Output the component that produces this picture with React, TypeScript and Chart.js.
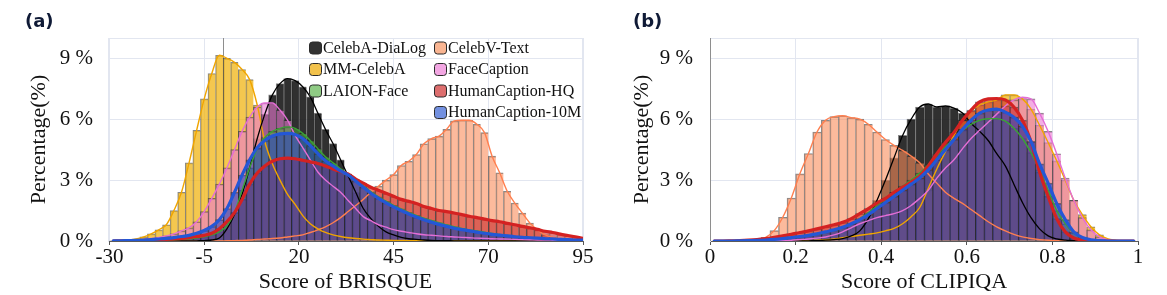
import React, { useEffect, useRef } from "react";
import { Chart, registerables } from "chart.js";

Chart.register(...registerables);

const SERIF = "'Liberation Serif', 'Times New Roman', serif";
const GRID = "#E2E6F0";

const SERIES = [
  "CelebA-DiaLog",
  "CelebV-Text",
  "MM-CelebA",
  "FaceCaption",
  "LAION-Face",
  "HumanCaption-HQ",
  "HumanCaption-10M",
];

// ---------- (a) BRISQUE ----------
const BRISQUE_BINS = [
  -29, -27, -25, -23, -21, -19, -17, -15, -13, -11,
  -9, -7, -5, -3, -1, 1, 3, 5, 7, 9,
  11, 13, 15, 17, 19, 21, 23, 25, 27, 29,
  31, 33, 35, 37, 39, 41, 43, 45, 47, 49,
  51, 53, 55, 57, 59, 61, 63, 65, 67, 69,
  71, 73, 75, 77, 79, 81, 83, 85, 87, 89,
  91, 93, 95,
];
const BRISQUE_CELEBA_DIALOG = [
  0, 0, 0, 0, 0, 0, 0, 0, 0, 0,
  0, 0.01, 0.02, 0.05, 0.15, 0.6, 1.3, 2.3, 3.6, 5.05,
  6.25, 7.2, 7.75, 8.0, 7.9, 7.6, 7.1, 6.3, 5.5, 4.8,
  4.0, 3.2, 2.4, 1.6, 1.1, 0.72, 0.45, 0.3, 0.18, 0.11,
  0.08, 0.05, 0.03, 0.02, 0.02, 0.01, 0.01, 0.01, 0.01, 0.01,
  0.01, 0.01, 0.01, 0, 0, 0, 0, 0, 0, 0,
  0, 0, 0,
];
const BRISQUE_CELEBV_TEXT = [
  0, 0, 0, 0, 0, 0, 0, 0, 0, 0,
  0, 0, 0, 0, 0, 0.01, 0.02, 0.03, 0.05, 0.08,
  0.1, 0.12, 0.15, 0.2, 0.25, 0.3, 0.42, 0.55, 0.7, 0.9,
  1.15, 1.45, 1.75, 2.05, 2.4, 2.7, 3.0, 3.27, 3.72, 3.93,
  4.26, 4.79, 5.04, 5.17, 5.5, 5.92, 5.95, 5.95, 5.75, 5.34,
  4.18, 3.36, 2.45, 1.87, 1.37, 0.88, 0.55, 0.3, 0.18, 0.1,
  0.06, 0.04, 0.02,
];
const BRISQUE_MM_CELEBA = [
  0.01, 0.02, 0.05, 0.1, 0.2, 0.35, 0.55, 0.8, 1.5, 2.4,
  3.85, 5.45, 7.0, 8.25, 9.15, 9.0, 8.8, 8.45, 7.95, 6.7,
  4.9, 3.8, 3.0, 2.3, 1.8, 1.25, 0.85, 0.6, 0.42, 0.3,
  0.22, 0.16, 0.12, 0.09, 0.07, 0.05, 0.04, 0.03, 0.03, 0.02,
  0.02, 0.02, 0.02, 0.01, 0.01, 0.01, 0.01, 0.01, 0.01, 0.01,
  0.01, 0.01, 0.01, 0, 0, 0, 0, 0, 0, 0,
  0, 0, 0,
];
const BRISQUE_FACECAPTION = [
  0, 0.01, 0.02, 0.04, 0.07, 0.12, 0.18, 0.25, 0.35, 0.5,
  0.65, 0.95, 1.45, 2.1, 2.8, 3.6, 4.5, 5.4, 6.1, 6.6,
  6.8, 6.8, 6.45, 5.95, 5.2, 4.6, 4.0, 3.4, 3.0, 2.7,
  2.4, 2.0, 1.6, 1.2, 1.0, 0.8, 0.68, 0.56, 0.48, 0.42,
  0.36, 0.31, 0.28, 0.25, 0.22, 0.2, 0.18, 0.16, 0.14, 0.13,
  0.11, 0.1, 0.09, 0.08, 0.07, 0.06, 0.05, 0.05, 0.04, 0.03,
  0.03, 0.02, 0.02,
];
const BRISQUE_LAION_FACE = [
  0, 0, 0, 0.01, 0.01, 0.02, 0.03, 0.04, 0.06, 0.08,
  0.1, 0.14, 0.2, 0.3, 0.45, 0.75, 1.4, 2.5, 3.6, 4.55,
  5.1, 5.4, 5.55, 5.62, 5.55, 5.3, 4.95, 4.55, 4.15, 3.85,
  3.55, 3.3, 3.02, 2.72, 2.44, 2.18, 1.96, 1.76, 1.58, 1.41,
  1.26, 1.13, 1.01, 0.9, 0.8, 0.7, 0.62, 0.55, 0.49, 0.43,
  0.37, 0.32, 0.27, 0.23, 0.2, 0.17, 0.14, 0.12, 0.1, 0.08,
  0.06, 0.05, 0.03,
];
const BRISQUE_HQ = [
  0, 0.01, 0.01, 0.02, 0.03, 0.04, 0.06, 0.08, 0.1, 0.13,
  0.17, 0.22, 0.28, 0.38, 0.6, 0.95, 1.4, 2.05, 2.8, 3.35,
  3.7, 3.93, 4.05, 4.08, 4.05, 3.98, 3.9, 3.82, 3.7, 3.55,
  3.42, 3.3, 3.05, 2.85, 2.65, 2.5, 2.35, 2.2, 2.05, 1.95,
  1.85, 1.7, 1.6, 1.5, 1.45, 1.38, 1.3, 1.22, 1.15, 1.08,
  1.0, 0.95, 0.87, 0.8, 0.72, 0.65, 0.57, 0.48, 0.42, 0.34,
  0.27, 0.2, 0.13,
];
const BRISQUE_10M = [
  0.01, 0.01, 0.02, 0.03, 0.05, 0.07, 0.1, 0.13, 0.17, 0.22,
  0.28, 0.38, 0.52, 0.72, 1.05, 1.6, 2.4, 3.25, 4.0, 4.6,
  4.95, 5.17, 5.28, 5.3, 5.25, 5.05, 4.7, 4.3, 3.95, 3.7,
  3.45, 3.25, 2.95, 2.65, 2.35, 2.1, 1.88, 1.68, 1.5, 1.33,
  1.18, 1.05, 0.93, 0.82, 0.72, 0.63, 0.56, 0.5, 0.44, 0.38,
  0.33, 0.29, 0.25, 0.21, 0.18, 0.16, 0.14, 0.12, 0.1, 0.08,
  0.07, 0.05, 0.04,
];
const BRISQUE_TICKS = [-30, -5, 20, 45, 70, 95];

// ---------- (b) CLIPIQA ----------
const CLIPIQA_BINS = [
  0.01, 0.03, 0.05, 0.07, 0.09, 0.11, 0.13, 0.15, 0.17, 0.19,
  0.21, 0.23, 0.25, 0.27, 0.29, 0.31, 0.33, 0.35, 0.37, 0.39,
  0.41, 0.43, 0.45, 0.47, 0.49, 0.51, 0.53, 0.55, 0.57, 0.59,
  0.61, 0.63, 0.65, 0.67, 0.69, 0.71, 0.73, 0.75, 0.77, 0.79,
  0.81, 0.83, 0.85, 0.87, 0.89, 0.91, 0.93, 0.95, 0.97, 0.99,
];
const CLIPIQA_CELEBA_DIALOG = [
  0, 0, 0, 0, 0, 0, 0, 0, 0, 0,
  0, 0.01, 0.02, 0.04, 0.07, 0.12, 0.25, 0.5, 1.1, 2.0,
  3.0, 4.1, 5.2, 6.0, 6.6, 6.75, 6.6, 6.65, 6.55, 6.3,
  5.8, 5.4, 4.95, 4.3, 3.7, 2.8, 1.9, 1.15, 0.6, 0.25,
  0.1, 0.04, 0.02, 0, 0, 0, 0, 0, 0, 0,
];
const CLIPIQA_CELEBV_TEXT = [
  0, 0, 0, 0.01, 0.03, 0.08, 0.18, 0.51, 1.17, 2.12,
  3.31, 4.31, 5.37, 5.95, 6.13, 6.17, 6.08, 6.0, 5.75, 5.37,
  5.0, 4.71, 4.46, 4.18, 3.85, 3.3, 2.85, 2.4, 2.1, 1.85,
  1.55, 1.25, 0.95, 0.7, 0.5, 0.33, 0.2, 0.12, 0.07, 0.04,
  0.02, 0.01, 0, 0, 0, 0, 0, 0, 0, 0,
];
const CLIPIQA_MM_CELEBA = [
  0, 0, 0, 0, 0, 0, 0, 0, 0, 0,
  0, 0.02, 0.04, 0.06, 0.1, 0.16, 0.22, 0.28, 0.34, 0.4,
  0.5, 0.62, 0.85, 1.2, 1.65, 2.6, 3.55, 4.4, 5.2, 5.95,
  6.4, 6.7, 6.85, 6.95, 7.2, 7.2, 7.0, 6.5, 5.7, 4.85,
  3.95, 3.0, 2.0, 1.3, 0.7, 0.3, 0.1, 0.03, 0, 0,
];
const CLIPIQA_FACECAPTION = [
  0, 0, 0, 0, 0, 0, 0, 0.01, 0.02, 0.04,
  0.07, 0.1, 0.14, 0.2, 0.3, 0.45, 0.65, 0.85, 1.0, 1.15,
  1.25, 1.35, 1.5, 1.75, 2.1, 2.5, 3.1, 3.6, 4.0, 4.55,
  5.05, 5.45, 5.85, 6.25, 6.65, 6.95, 7.08, 7.0, 6.3, 5.4,
  4.3, 3.1, 2.0, 1.15, 0.55, 0.2, 0.06, 0.02, 0, 0,
];
const CLIPIQA_LAION_FACE = [
  0, 0, 0, 0, 0, 0.02, 0.04, 0.07, 0.1, 0.14,
  0.19, 0.25, 0.33, 0.42, 0.52, 0.65, 0.85, 1.1, 1.4, 1.75,
  2.05, 2.4, 2.7, 3.0, 3.35, 3.75, 4.2, 4.65, 5.05, 5.45,
  5.75, 5.95, 6.02, 6.03, 5.9, 5.55, 5.05, 4.35, 3.5, 2.5,
  1.5, 0.85, 0.4, 0.13, 0.04, 0.01, 0, 0, 0, 0,
];
const CLIPIQA_HQ = [
  0, 0, 0.01, 0.02, 0.04, 0.07, 0.12, 0.18, 0.25, 0.33,
  0.42, 0.5, 0.6, 0.7, 0.8, 0.92, 1.1, 1.35, 1.6, 1.87,
  2.1, 2.4, 2.65, 2.9, 3.2, 3.7, 4.3, 4.85, 5.35, 5.95,
  6.45, 6.85, 7.0, 7.02, 6.95, 6.6, 5.95, 4.9, 3.4, 2.2,
  1.1, 0.45, 0.15, 0.05, 0.02, 0, 0, 0, 0, 0,
];
const CLIPIQA_10M = [
  0, 0, 0, 0.01, 0.02, 0.03, 0.05, 0.08, 0.12, 0.17,
  0.22, 0.28, 0.35, 0.45, 0.55, 0.68, 0.85, 1.05, 1.3, 1.6,
  1.9, 2.2, 2.5, 2.8, 3.1, 3.5, 4.0, 4.5, 5.0, 5.5,
  5.95, 6.3, 6.45, 6.5, 6.35, 6.1, 5.65, 4.9, 3.8, 2.85,
  1.85, 1.05, 0.45, 0.17, 0.06, 0.02, 0, 0, 0, 0,
];
const CLIPIQA_TICKS = [0, 0.2, 0.4, 0.6, 0.8, 1];

const PERCENT_TICKS = [0, 3, 6, 9];

// ---------- styles ----------
type Style = { fill: string; swatch: string; line: string; width: number; barOrder: number; lineOrder: number };
const STYLES: Record<string, Style> = {
  "CelebA-DiaLog": { fill: "rgba(30,30,30,0.92)", swatch: "#333333", line: "#000000", width: 1.3, barOrder: 16, lineOrder: 4 },
  "CelebV-Text": { fill: "rgba(250,140,90,0.6)", swatch: "#F9B592", line: "#FF7F4F", width: 1.4, barOrder: 15, lineOrder: 6 },
  "MM-CelebA": { fill: "rgba(240,180,20,0.75)", swatch: "#F2C24C", line: "#F0A500", width: 1.4, barOrder: 14, lineOrder: 5 },
  "FaceCaption": { fill: "rgba(235,120,210,0.6)", swatch: "#F2A6E2", line: "#E46ED6", width: 1.4, barOrder: 13, lineOrder: 3 },
  "LAION-Face": { fill: "rgba(80,170,60,0.55)", swatch: "#8FCB84", line: "#3AA335", width: 1.4, barOrder: 12, lineOrder: 2 },
  "HumanCaption-HQ": { fill: "rgba(200,40,40,0.6)", swatch: "#DD6E6E", line: "#D42222", width: 3.2, barOrder: 11, lineOrder: 1 },
  "HumanCaption-10M": { fill: "rgba(40,70,190,0.6)", swatch: "#7290E0", line: "#2457D6", width: 3.2, barOrder: 10, lineOrder: 0 },
};

const LEGEND_LAYOUT = [
  { name: "CelebA-DiaLog", x: 309, y: 47.5 },
  { name: "CelebV-Text", x: 434, y: 47.5 },
  { name: "MM-CelebA", x: 309, y: 69 },
  { name: "FaceCaption", x: 434, y: 69 },
  { name: "LAION-Face", x: 309, y: 90.5 },
  { name: "HumanCaption-HQ", x: 434, y: 90.5 },
  { name: "HumanCaption-10M", x: 434, y: 112 },
];

type PanelSpec = {
  bins: number[];
  values: Record<string, number[]>;
  ticks: number[];
  min: number;
  max: number;
  xTitle: string;
  yAxisWidth: number;
  rightPad: number;
  yTitlePad: number;
  yTickPad: number;
  legend: boolean;
  width: number;
  left: number;
};

const PANEL_A: PanelSpec = {
  bins: BRISQUE_BINS,
  values: {
    "CelebA-DiaLog": BRISQUE_CELEBA_DIALOG,
    "CelebV-Text": BRISQUE_CELEBV_TEXT,
    "MM-CelebA": BRISQUE_MM_CELEBA,
    "FaceCaption": BRISQUE_FACECAPTION,
    "LAION-Face": BRISQUE_LAION_FACE,
    "HumanCaption-HQ": BRISQUE_HQ,
    "HumanCaption-10M": BRISQUE_10M,
  },
  ticks: BRISQUE_TICKS,
  min: -30.4,
  max: 95,
  xTitle: "Score of BRISQUE",
  yAxisWidth: 108,
  rightPad: 17,
  yTitlePad: 25.8,
  yTickPad: 15,
  legend: true,
  width: 600,
  left: 0,
};

const PANEL_B: PanelSpec = {
  bins: CLIPIQA_BINS,
  values: {
    "CelebA-DiaLog": CLIPIQA_CELEBA_DIALOG,
    "CelebV-Text": CLIPIQA_CELEBV_TEXT,
    "MM-CelebA": CLIPIQA_MM_CELEBA,
    "FaceCaption": CLIPIQA_FACECAPTION,
    "LAION-Face": CLIPIQA_LAION_FACE,
    "HumanCaption-HQ": CLIPIQA_HQ,
    "HumanCaption-10M": CLIPIQA_10M,
  },
  ticks: CLIPIQA_TICKS,
  min: 0,
  max: 1,
  xTitle: "Score of CLIPIQA",
  yAxisWidth: 110,
  rightPad: 29,
  yTitlePad: 28.8,
  yTickPad: 17,
  legend: false,
  width: 567,
  left: 600,
};

const framePlugin = {
  id: "frame",
  beforeDatasetsDraw(chart: any) {
    const { ctx, chartArea: a, scales } = chart;
    ctx.save();
    ctx.strokeStyle = GRID;
    ctx.lineWidth = 1;
    ctx.beginPath();
    ctx.moveTo(Math.round(a.right) - 0.5, a.top);
    ctx.lineTo(Math.round(a.right) - 0.5, a.bottom);
    ctx.moveTo(a.left, Math.round(a.top) + 0.5);
    ctx.lineTo(a.right, Math.round(a.top) + 0.5);
    ctx.stroke();
    const x0 = scales.x.getPixelForValue(0);
    if (x0 >= a.left - 1 && x0 <= a.right) {
      ctx.strokeStyle = "#8E8E8E";
      ctx.beginPath();
      ctx.moveTo(Math.round(x0) + 0.5, a.top);
      ctx.lineTo(Math.round(x0) + 0.5, a.bottom);
      ctx.stroke();
    }
    ctx.restore();
  },
};

const legendPlugin = {
  id: "boxLegend",
  afterDraw(chart: any) {
    const ctx = chart.ctx as CanvasRenderingContext2D;
    ctx.save();
    ctx.font = `16px ${SERIF}`;
    ctx.textBaseline = "middle";
    ctx.textAlign = "left";
    LEGEND_LAYOUT.forEach((item) => {
      const st = STYLES[item.name];
      ctx.beginPath();
      (ctx as any).roundRect(item.x + 0.5, item.y - 5.5, 12, 12, 3);
      ctx.fillStyle = st.swatch;
      ctx.fill();
      ctx.strokeStyle = "#2a2a2a";
      ctx.lineWidth = 1;
      ctx.stroke();
      ctx.fillStyle = "#111111";
      ctx.fillText(item.name, item.x + 14, item.y + 1);
    });
    ctx.restore();
  },
};

function buildConfig(p: PanelSpec): any {
  const datasets: any[] = [];
  SERIES.forEach((name) => {
    const st = STYLES[name];
    const pts = p.bins.map((x, i) => ({ x, y: p.values[name][i] }));
    datasets.push({
      type: "bar",
      label: name,
      data: pts,
      backgroundColor: st.fill,
      borderColor: "rgba(40,40,40,0.55)",
      borderWidth: { top: 1, left: 1, right: 0, bottom: 0 },
      borderSkipped: "start",
      grouped: false,
      barPercentage: 1,
      categoryPercentage: 1,
      order: st.barOrder,
    });
    datasets.push({
      type: "line",
      label: name + " KDE",
      data: pts,
      borderColor: st.line,
      borderWidth: st.width,
      borderCapStyle: "round",
      borderJoinStyle: "round",
      pointRadius: 0,
      fill: false,
      cubicInterpolationMode: "monotone",
      order: st.lineOrder,
    });
  });

  return {
    type: "bar",
    data: { datasets },
    options: {
      animation: false,
      responsive: false,
      maintainAspectRatio: false,
      layout: { padding: { left: 0, top: 38, right: p.rightPad, bottom: 0 } },
      plugins: { legend: { display: false }, tooltip: { enabled: false } },
      scales: {
        x: {
          type: "linear",
          min: p.min,
          max: p.max,
          offset: false,
          afterBuildTicks: (s: any) => {
            s.ticks = p.ticks.map((v) => ({ value: v }));
          },
          afterFit: (s: any) => {
            s.height = 54;
          },
          grid: { color: GRID, offset: false, drawTicks: true, tickLength: 4, tickColor: "#555555" },
          border: { color: "#5a5a5a", width: 1 },
          ticks: {
            font: { family: SERIF, size: 21 },
            color: "#111111",
            padding: 0,
            maxRotation: 0,
            autoSkip: false,
            callback: (v: any) => String(v),
          },
          title: {
            display: true,
            text: p.xTitle,
            font: { family: SERIF, size: 22 },
            color: "#111111",
            padding: { top: 0, bottom: 0 },
          },
        },
        y: {
          min: 0,
          max: 10,
          afterBuildTicks: (s: any) => {
            s.ticks = PERCENT_TICKS.map((v) => ({ value: v }));
          },
          afterFit: (s: any) => {
            s.width = p.yAxisWidth;
          },
          grid: { color: GRID, drawTicks: false },
          border: { color: GRID, width: 1 },
          ticks: {
            font: { family: SERIF, size: 21 },
            color: "#111111",
            padding: p.yTickPad,
            callback: (v: any) => `${v} %`,
          },
          title: {
            display: true,
            text: "Percentage(%)",
            font: { family: SERIF, size: 22 },
            color: "#111111",
            padding: { top: p.yTitlePad, bottom: 0 },
          },
        },
      },
    },
    plugins: p.legend ? [framePlugin, legendPlugin] : [framePlugin],
  };
}

function Panel({ spec }: { spec: PanelSpec }) {
  const ref = useRef<HTMLCanvasElement>(null);
  useEffect(() => {
    if (!ref.current) return;
    const chart = new Chart(ref.current, buildConfig(spec));
    return () => chart.destroy();
  }, [spec]);
  return (
    <canvas
      ref={ref}
      width={spec.width}
      height={295}
      style={{ position: "absolute", left: spec.left, top: 0, width: spec.width, height: 295 }}
    />
  );
}

const labelStyle: React.CSSProperties = {
  position: "absolute",
  top: 12,
  fontFamily: "'DejaVu Sans', sans-serif",
  fontWeight: 700,
  fontSize: 18,
  lineHeight: "18px",
  color: "#0F1A36",
};

export default function App() {
  return (
    <div style={{ position: "fixed", left: 0, top: 0, width: 1167, height: 295, background: "#ffffff", overflow: "hidden" }}>
      <Panel spec={PANEL_A} />
      <Panel spec={PANEL_B} />
      <div style={{ ...labelStyle, left: 25 }}>(a)</div>
      <div style={{ ...labelStyle, left: 633 }}>(b)</div>
    </div>
  );
}
